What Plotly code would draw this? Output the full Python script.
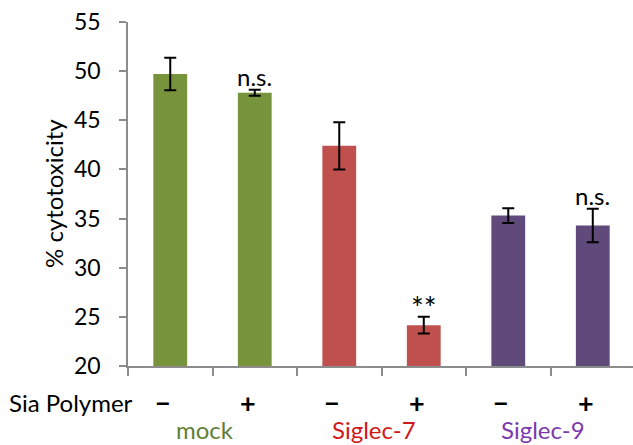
import plotly.graph_objects as go

# ---- data ----
groups = ["mock", "Siglec-7", "Siglec-9"]
polymer = ["−", "+", "−", "+", "−", "+"]
values = [49.7, 47.8, 42.4, 24.15, 35.3, 34.3]
errors = [1.65, 0.3, 2.4, 0.85, 0.75, 1.7]
signif = ["", "n.s.", "", "**", "", "n.s."]
y_ticks = [20, 25, 30, 35, 40, 45, 50, 55]

bar_colors = ["#77933C", "#77933C", "#C0504D", "#C0504D", "#604A7B", "#604A7B"]
group_colors = ["#5F7F35", "#D01818", "#7A3AAE"]

FONT = "Lato"
xs = list(range(len(values)))

fig = go.Figure()
fig.add_trace(go.Bar(
    x=xs, y=values, width=0.4,
    marker=dict(color=bar_colors, line=dict(width=0)),
    error_y=dict(type="data", array=errors, visible=True,
                 color="black", thickness=2, width=6),
    showlegend=False,
))

annotations = []
# significance labels
for i, s in enumerate(signif):
    if s:
        annotations.append(dict(
            x=i, y=values[i] + errors[i], xref="x", yref="y",
            text=s, showarrow=False, xanchor="center", yanchor="bottom",
            yshift=(-3 if s != "**" else -10),
            font=dict(family=FONT, size=(24 if s != "**" else 30), color="black")))
# polymer +/- row
for i, p in enumerate(polymer):
    annotations.append(dict(
        x=i, y=0, xref="x", yref="paper", text="<b>%s</b>" % p,
        showarrow=False, xanchor="center", yanchor="middle",
        xshift=-7, yshift=-36,
        font=dict(family=FONT, size=27, color="black")))
annotations.append(dict(
    x=0, y=0, xref="paper", yref="paper", text="Sia Polymer",
    showarrow=False, xanchor="right", yanchor="middle",
    xshift=7, yshift=-36,
    font=dict(family=FONT, size=24, color="black")))
# group labels
for g, (name, col) in enumerate(zip(groups, group_colors)):
    annotations.append(dict(
        x=2 * g + 0.5, y=0, xref="x", yref="paper", text=name,
        showarrow=False, xanchor="center", yanchor="middle",
        xshift=-8, yshift=-63,
        font=dict(family=FONT, size=24, color=col)))
# y axis title
annotations.append(dict(
    x=0, y=0.5, xref="paper", yref="paper", text="% cytotoxicity",
    showarrow=False, textangle=-90, xanchor="center", yanchor="middle",
    xshift=-75, font=dict(family=FONT, size=24, color="black")))

fig.update_layout(
    width=633, height=445,
    margin=dict(l=128, r=0, t=22, b=79, pad=0),
    plot_bgcolor="white", paper_bgcolor="white",
    font=dict(family=FONT, size=22, color="black"),
    annotations=annotations,
    xaxis=dict(
        range=[-0.5, 5.476], showgrid=False, zeroline=False,
        showline=True, linecolor="#8C8C8C", linewidth=1.5,
        tickmode="array", tickvals=[x - 0.5 for x in xs] + [5.5],
        ticktext=[""] * (len(xs) + 1), ticks="outside", ticklen=8,
        tickcolor="#8C8C8C", tickwidth=1.5, showticklabels=False,
    ),
    yaxis=dict(
        range=[20, 55], showgrid=False, zeroline=False,
        showline=True, linecolor="#8C8C8C", linewidth=1.5,
        tickmode="array", tickvals=y_ticks,
        ticks="outside", ticklen=7, tickcolor="#8C8C8C", tickwidth=1.5,
        tickfont=dict(family=FONT, size=23, color="black"),
        ticklabelstandoff=14,
    ),
)

fig.write_html("out.html")
